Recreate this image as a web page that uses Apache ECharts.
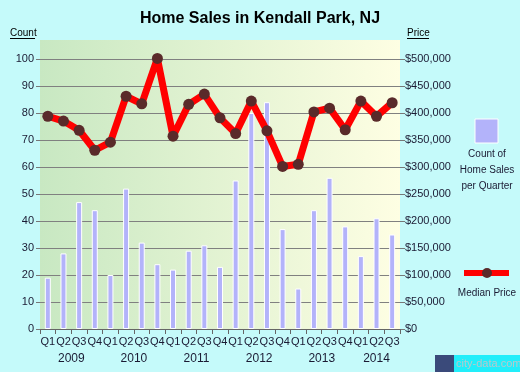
<!DOCTYPE html>
<html>
<head>
<meta charset="utf-8">
<script src="https://cdn.jsdelivr.net/npm/echarts@6/dist/echarts.min.js"></script>
<style>
html,body{margin:0;padding:0;background:#c5fafa;}
#c{width:520px;height:372px;}
</style>
</head>
<body>
<div id="c"></div>
<script>
// ---- data ----
const quarterLabels = ['Q1','Q2','Q3','Q4','Q1','Q2','Q3','Q4','Q1','Q2','Q3','Q4','Q1','Q2','Q3','Q4','Q1','Q2','Q3','Q4','Q1','Q2','Q3'];
const years = ['2009','2010','2011','2012','2013','2014'];
const salesCount = [19,28,47,44,20,52,32,24,22,29,31,23,55,80,84,37,15,44,56,38,27,41,35];
const medianPrice = [394000,385000,368000,331000,346000,431000,417000,501000,357000,416000,435000,391000,362000,422000,367000,301000,305000,402000,409000,369000,422000,394000,419000];
const countTicks = {min:0, max:100, interval:10};
const priceTicks = {min:0, max:500000, interval:50000};

// year label axis: half-quarter resolution, labels at each year's centre
const yearSlots = new Array(quarterLabels.length * 2 + 1).fill('');
(function(){
  let yi = -1;
  const spans = [];
  quarterLabels.forEach((q, i) => {
    if (q === 'Q1') { yi++; spans.push({start:i, n:0}); }
    spans[yi].n++;
  });
  spans.forEach((s, k) => { yearSlots[2*s.start + s.n] = years[k]; });
})();

const txt = '#1a1a33';
const chart = echarts.init(document.getElementById('c'), null, {renderer:'canvas'});
chart.setOption({
  backgroundColor: '#c5fafa',
  animation: false,
  title: {
    text: 'Home Sales in Kendall Park, NJ',
    left: 'center', top: 6,
    textStyle: {fontFamily:'Liberation Sans, Arial', fontSize:16, fontWeight:'bold', color:'#000'}
  },
  graphic: [
    {type:'rect', z:-10, shape:{x:40, y:40, width:360, height:289},
     style:{fill:new echarts.graphic.LinearGradient(0,0,1,0,[{offset:0,color:'#c8e8c2'},{offset:1,color:'#fefee3'}])}},
    {type:'text', left:10, top:28, style:{text:'Count', font:'10px "Liberation Sans", Arial', fill:'#000'}},
    {type:'line', shape:{x1:10, y1:38.5, x2:35, y2:38.5}, style:{stroke:'#000', lineWidth:1}},
    {type:'text', left:407, top:28, style:{text:'Price', font:'10px "Liberation Sans", Arial', fill:'#000'}},
    {type:'line', shape:{x1:407, y1:38.5, x2:429, y2:38.5}, style:{stroke:'#000', lineWidth:1}},
    // legend
    {type:'rect', shape:{x:475, y:119, width:23, height:24}, style:{fill:'#b3b3fa', stroke:'#fff', lineWidth:1}},
    {type:'text', x:487, y:154, style:{text:'Count of', font:'10px "Liberation Sans", Arial', fill:txt, align:'center', verticalAlign:'middle'}},
    {type:'text', x:487, y:170, style:{text:'Home Sales', font:'10px "Liberation Sans", Arial', fill:txt, align:'center', verticalAlign:'middle'}},
    {type:'text', x:487, y:186, style:{text:'per Quarter', font:'10px "Liberation Sans", Arial', fill:txt, align:'center', verticalAlign:'middle'}},
    {type:'line', shape:{x1:464, y1:273, x2:509, y2:273}, style:{stroke:'#ff0000', lineWidth:6}},
    {type:'circle', shape:{cx:487, cy:273, r:5}, style:{fill:'#5a2a2a'}},
    {type:'text', x:487, y:293, style:{text:'Median Price', font:'10px "Liberation Sans", Arial', fill:txt, align:'center', verticalAlign:'middle'}},
    // watermark
    {type:'rect', shape:{x:435, y:355, width:19, height:17}, style:{fill:'#3a4a7a'}},
    {type:'rect', shape:{x:454, y:355, width:66, height:17}, style:{fill:'#22eefa'}},
    {type:'text', x:456, y:363.5, style:{text:'city-data.com', font:'11px "Liberation Sans", Arial', fill:'#b8c8cc', verticalAlign:'middle'}}
  ],
  grid: {left:40, right:120, top:59, bottom:43, containLabel:false},
  xAxis: [
    {
      type:'category', data: quarterLabels, boundaryGap:true,
      axisLine:{show:true, lineStyle:{color:'#666'}},
      axisTick:{show:true, length:5, alignWithLabel:false, interval:0, lineStyle:{color:'#666'}},
      axisLabel:{interval:0, margin:7, fontSize:11, fontFamily:'Liberation Sans, Arial', color:txt}
    },
    {
      type:'category', data: yearSlots, boundaryGap:false, position:'bottom',
      axisLine:{show:false}, axisTick:{show:false}, splitLine:{show:false},
      axisLabel:{interval:0, margin:24, fontSize:12, fontFamily:'Liberation Sans, Arial', color:txt}
    }
  ],
  yAxis: [
    {
      type:'value', min:countTicks.min, max:countTicks.max, interval:countTicks.interval,
      axisLine:{show:false},
      axisTick:{show:true, length:4, lineStyle:{color:'#777'}},
      splitLine:{show:true, lineStyle:{color:'#808080', width:1.2}},
      axisLabel:{margin:6, fontSize:11, fontFamily:'Liberation Sans, Arial', color:txt}
    },
    {
      type:'value', min:priceTicks.min, max:priceTicks.max, interval:priceTicks.interval, position:'right',
      axisLine:{show:false},
      axisTick:{show:true, length:5, lineStyle:{color:'#777'}},
      splitLine:{show:false},
      axisLabel:{margin:5, fontSize:11, fontFamily:'Liberation Sans, Arial', color:txt,
        formatter: v => '$' + v.toLocaleString('en-US')}
    }
  ],
  series: [
    {
      type:'bar', data: salesCount, xAxisIndex:0, yAxisIndex:0, barWidth:6,
      itemStyle:{color:'#b3b3fa', borderColor:'#ffffff', borderWidth:1}
    },
    {
      type:'line', data: medianPrice, xAxisIndex:0, yAxisIndex:1, clip:false,
      symbol:'circle', symbolSize:11, z:5,
      lineStyle:{color:'#ff0000', width:7},
      itemStyle:{color:'#5a2a2a'}
    }
  ]
});
</script>
</body>
</html>
